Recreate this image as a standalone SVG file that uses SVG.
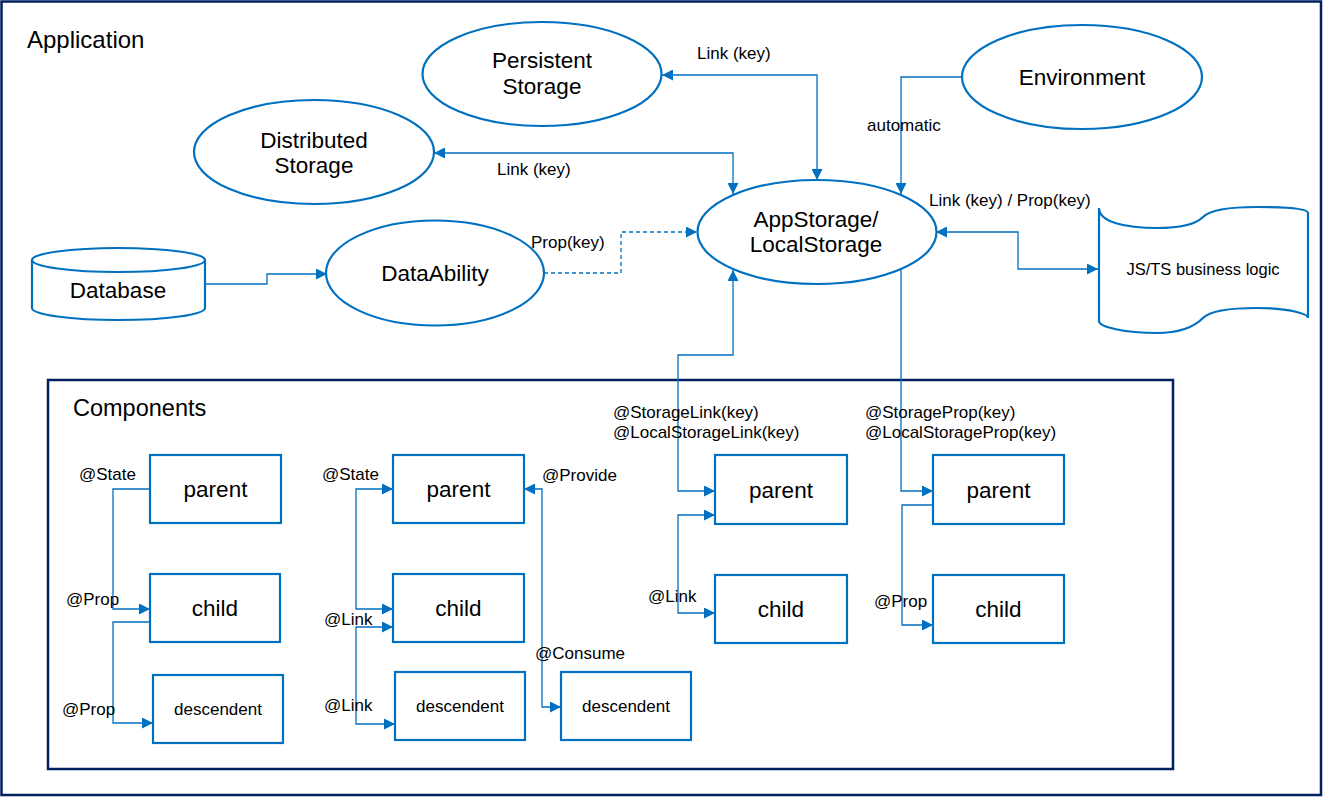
<svg xmlns="http://www.w3.org/2000/svg" width="1323" height="797" viewBox="0 0 1323 797">
<style>
text{font-family:"Liberation Sans",Arial,sans-serif;fill:#000}
.big{font-size:22.5px}
.title{font-size:24px}
.lab{font-size:17px}
.desc{font-size:17px}
.node{fill:#fff;stroke:#0070c0;stroke-width:2.2}
.frame{fill:none;stroke:#002060;stroke-width:2.5}
.c{fill:none;stroke:#0070c0;stroke-width:1.3}
.dash{stroke-dasharray:4 3}
</style>
<defs>
<marker id="a" viewBox="0 0 11 11" refX="11" refY="5.5" markerWidth="11" markerHeight="11" markerUnits="userSpaceOnUse" orient="auto-start-reverse">
<path d="M0,0 L11,5.5 L0,11 z" fill="#0070c0"/>
</marker>
</defs>
<rect width="1323" height="797" fill="#fff"/>
<rect class="frame" x="1.5" y="1.5" width="1319.5" height="793.5"/>
<text class="title" x="27" y="48">Application</text>

<g id="components-frame">
<rect class="frame" x="48" y="380" width="1125" height="389"/>
<text class="title" x="73" y="416" style="font-size:23.5px">Components</text>
</g>

<g id="connectors">
<path class="c" d="M662,75 H817 V180" marker-start="url(#a)" marker-end="url(#a)"/>
<path class="c" d="M434,153 H733 V194" marker-start="url(#a)" marker-end="url(#a)"/>
<path class="c" d="M963,77 H901 V194" marker-end="url(#a)"/>
<path class="c" d="M205,284 H267 V274 H327" marker-end="url(#a)"/>
<path class="c dash" d="M544,273 H621 V232 H697" marker-end="url(#a)"/>
<path class="c" d="M936,232 H1018 V269 H1098" marker-start="url(#a)" marker-end="url(#a)"/>
<path class="c" d="M733,270 V355 H678 V491 H715" marker-start="url(#a)" marker-end="url(#a)"/>
<path class="c" d="M901,269 V491 H933" marker-end="url(#a)"/>
<path class="c" d="M715,515 H678 V613 H715" marker-start="url(#a)" marker-end="url(#a)"/>
<path class="c" d="M933,505 H902 V625 H933" marker-end="url(#a)"/>
<path class="c" d="M150,489 H113 V609 H150" marker-end="url(#a)"/>
<path class="c" d="M150,622 H113 V723 H153" marker-end="url(#a)"/>
<path class="c" d="M393,489 H356 V609 H393" marker-start="url(#a)" marker-end="url(#a)"/>
<path class="c" d="M393,627 H356 V724 H395" marker-start="url(#a)" marker-end="url(#a)"/>
<path class="c" d="M524,489 H542 V707 H561" marker-start="url(#a)" marker-end="url(#a)"/>
<text class="lab" x="697" y="59">Link (key)</text>
<text class="lab" x="497" y="175">Link (key)</text>
<text class="lab" x="867" y="131">automatic</text>
<text class="lab" x="531" y="248">Prop(key)</text>
<text class="lab" x="929" y="206">Link (key) / Prop(key)</text>
<text class="lab" x="79" y="480">@State</text>
<text class="lab" x="66" y="605">@Prop</text>
<text class="lab" x="62" y="715">@Prop</text>
<text class="lab" x="322" y="480">@State</text>
<text class="lab" x="324" y="625">@Link</text>
<text class="lab" x="324" y="711">@Link</text>
<text class="lab" x="542" y="481">@Provide</text>
<text class="lab" x="535" y="659">@Consume</text>
<text class="lab" x="613" y="418">@StorageLink(key)</text>
<text class="lab" x="613" y="438">@LocalStorageLink(key)</text>
<text class="lab" x="648" y="602">@Link</text>
<text class="lab" x="865" y="418">@StorageProp(key)</text>
<text class="lab" x="865" y="438">@LocalStorageProp(key)</text>
<text class="lab" x="874" y="607">@Prop</text>
</g>

<g id="persistent-storage">
<ellipse class="node" cx="542" cy="74" rx="119.5" ry="52"/>
<text class="big" x="542" y="68" text-anchor="middle">Persistent</text>
<text class="big" x="542" y="94" text-anchor="middle">Storage</text>
</g>
<g id="distributed-storage">
<ellipse class="node" cx="314" cy="152" rx="120" ry="52"/>
<text class="big" x="314" y="148" text-anchor="middle">Distributed</text>
<text class="big" x="314" y="173" text-anchor="middle">Storage</text>
</g>
<g id="environment">
<ellipse class="node" cx="1082" cy="77" rx="120" ry="52"/>
<text class="big" x="1082" y="85" text-anchor="middle">Environment</text>
</g>
<g id="appstorage">
<ellipse class="node" cx="817" cy="232" rx="119.5" ry="52"/>
<text class="big" x="816" y="227" text-anchor="middle">AppStorage/</text>
<text class="big" x="816" y="252" text-anchor="middle">LocalStorage</text>
</g>
<g id="dataability">
<ellipse class="node" cx="435" cy="273" rx="109" ry="52.5"/>
<text class="big" x="435" y="281" text-anchor="middle">DataAbility</text>
</g>
<g id="database">
<path class="node" d="M32,260 V308 A86.5,12 0 0 0 205,308 V260 A86.5,12 0 0 0 32,260 Z"/>
<path class="node" d="M32,260 A86.5,12 0 0 0 205,260" fill="none"/>
<text class="big" x="118" y="298" text-anchor="middle">Database</text>
</g>
<g id="js-ts-logic">
<path class="node" d="M1099,208 C1099,222 1125,228 1157,228 C1185,228 1198,222 1203,217 C1210,210 1230,207 1257,207 C1290,207 1308,209 1308,213 V318 C1308,314 1290,308 1257,308 C1230,308 1210,311 1203,318 C1198,323 1185,333 1157,333 C1125,333 1099,327 1099,321 Z"/>
<text class="lab" x="1203" y="275" text-anchor="middle" style="font-size:16.5px">JS/TS business logic</text>
</g>

<g id="c1-parent"><rect class="node" x="150" y="455" width="131" height="68"/><text class="big" x="215.5" y="497" text-anchor="middle">parent</text></g>
<g id="c1-child"><rect class="node" x="150" y="574" width="130" height="68"/><text class="big" x="215" y="616" text-anchor="middle">child</text></g>
<g id="c1-descendent"><rect class="node" x="153" y="675" width="130" height="68"/><text class="desc" x="218" y="715" text-anchor="middle">descendent</text></g>

<g id="c2-parent"><rect class="node" x="393" y="455" width="131" height="68"/><text class="big" x="458.5" y="497" text-anchor="middle">parent</text></g>
<g id="c2-child"><rect class="node" x="393" y="574" width="131" height="68"/><text class="big" x="458.5" y="616" text-anchor="middle">child</text></g>
<g id="c2-descendent"><rect class="node" x="395" y="672" width="130" height="68"/><text class="desc" x="460" y="712" text-anchor="middle">descendent</text></g>

<g id="c3-descendent"><rect class="node" x="561" y="672" width="130" height="68"/><text class="desc" x="626" y="712" text-anchor="middle">descendent</text></g>

<g id="c4-parent"><rect class="node" x="715" y="455" width="132" height="69"/><text class="big" x="781" y="498" text-anchor="middle">parent</text></g>
<g id="c4-child"><rect class="node" x="715" y="575" width="132" height="68"/><text class="big" x="781" y="617" text-anchor="middle">child</text></g>

<g id="c5-parent"><rect class="node" x="933" y="455" width="131" height="69"/><text class="big" x="998.5" y="498" text-anchor="middle">parent</text></g>
<g id="c5-child"><rect class="node" x="933" y="575" width="131" height="68"/><text class="big" x="998.5" y="617" text-anchor="middle">child</text></g>
</svg>
